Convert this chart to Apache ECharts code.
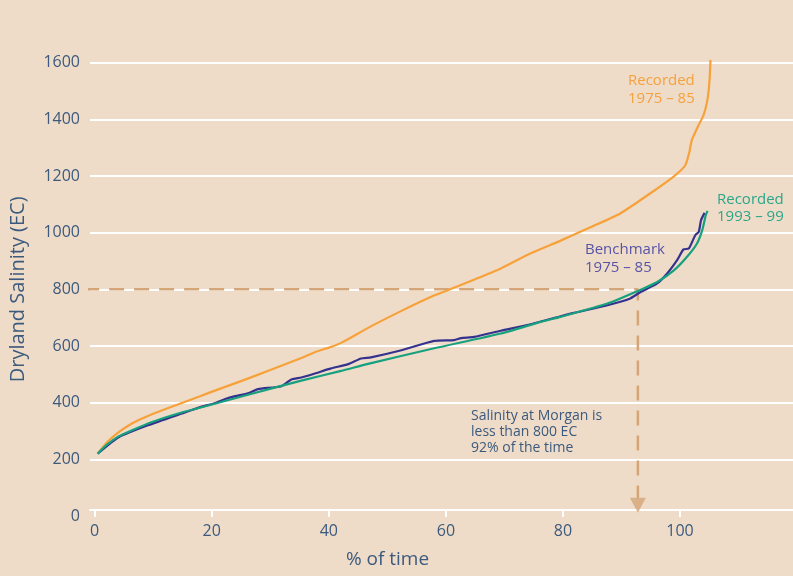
<!DOCTYPE html>
<html>
<head>
<meta charset="utf-8">
<script src="https://cdn.jsdelivr.net/npm/echarts@6/dist/echarts.min.js"></script>
<style>
html,body{margin:0;padding:0;background:#efdcc8;}
#chart{width:793px;height:576px;}
</style>
</head>
<body>
<div id="chart"></div>
<script>
// ---- data ----
const xTickValues = [0, 20, 40, 60, 80, 100];
const recorded7585 = [[0.5,220],[2,258],[4,294],[6,322],[8,343],[10,361],[12,377],[15,400],[18,423],[21,446],[25,476],[30,515],[35.3,558],[37.6,578],[40.4,597],[42.2,612],[46.7,664],[52.4,724],[57.5,774],[60.3,797],[65,836],[69.4,874],[74.5,927],[79.6,972],[85,1022],[89.8,1068],[95,1140],[98.9,1198],[100.9,1238],[101.6,1285],[102,1326],[103,1372],[104,1414],[104.6,1460],[104.9,1503],[105.1,1560],[105.2,1610]];
const benchmark7585 = [[0.5,220],[4.1,278],[9.2,321],[14.9,362],[18.3,386],[20.5,398],[22.3,413],[24,423],[26.2,433],[27.9,448],[31.9,458],[33.6,482],[35.3,489],[37.6,503],[40.4,521],[43.3,536],[45.5,556],[47.2,560],[52.4,585],[58,618],[61.4,621],[62.6,628],[64.8,632],[69.4,654],[73.9,674],[79.6,705],[81.9,717],[87.6,744],[91.5,768],[93.2,790],[96.1,821],[97.8,856],[99.5,903],[100.6,941],[101.5,944],[102.6,991],[103.2,1003],[103.6,1045],[104.2,1070]];
const recorded9399 = [[0.5,220],[2,250],[4,280],[6.4,303],[9.8,332],[14,360],[18.3,384],[26.2,428],[35.3,478],[42.1,512],[46.7,537],[58,592],[69.4,644],[76.2,685],[79.6,703],[87.6,750],[93.2,798],[96.1,826],[99,868],[101.2,915],[102.9,962],[103.8,1009],[104.4,1062],[104.7,1077]];
const thresholdLine = [[-1.8,800],[92.8,800],[92.8,63]];
const arrowHead = [[92.8,38]];

const textColor = '#3b5a7e';
const chart = echarts.init(document.getElementById('chart'));
chart.setOption({
  backgroundColor: '#efdcc8',
  animation: false,
  grid: {left: 88, right: 0, top: 62.7, bottom: 60},
  xAxis: {
    type: 'value', min: -0.8, max: 119.3, offset: -6,
    name: '% of time', nameLocation: 'middle', nameGap: 40,
    nameTextStyle: {color: textColor, fontSize: 19, fontFamily: 'Open Sans', padding: [0, 108, 0, 0]},
    axisLine: {show: true, lineStyle: {color: '#ffffff', width: 2}},
    axisTick: {show: true, length: 7, lineStyle: {color: '#ffffff', width: 2}, customValues: xTickValues},
    axisLabel: {color: textColor, fontSize: 16, fontFamily: 'Open Sans', margin: 13, customValues: xTickValues,
                formatter: v => String(v)},
    splitLine: {show: false}
  },
  yAxis: {
    type: 'value', min: 0, max: 1600, interval: 200,
    name: 'Dryland Salinity (EC)', nameLocation: 'middle', nameGap: 62,
    nameTextStyle: {color: textColor, fontSize: 20, fontFamily: 'Open Sans'},
    axisLine: {show: false}, axisTick: {show: false},
    axisLabel: {color: textColor, fontSize: 16, fontFamily: 'Open Sans', margin: 10, formatter: v => String(v)},
    splitLine: {show: true, showMinLine: false, lineStyle: {color: '#ffffff', width: 2}}
  },
  series: [
    {type: 'line', name: 'threshold', data: thresholdLine, symbol: 'none', clip: false, z: 1,
     lineStyle: {color: '#d3a577', width: 2.5, type: [15, 10]}},
    {type: 'scatter', name: 'arrow', data: arrowHead, symbol: 'triangle', symbolRotate: 180,
     symbolSize: [16, 15], itemStyle: {color: '#d3a577'}, clip: false, z: 1},
    {type: 'line', name: 'Recorded 1975 – 85', data: recorded7585, symbol: 'none', clip: false, smooth: 0.2,
     lineStyle: {color: '#f7a13a', width: 2.2}, z: 3},
    {type: 'line', name: 'Recorded 1993 – 99', data: recorded9399, symbol: 'none', clip: false, smooth: 0.2,
     lineStyle: {color: '#17a07e', width: 2.2}, z: 3},
    {type: 'line', name: 'Benchmark 1975 – 85', data: benchmark7585, symbol: 'none', clip: false, smooth: 0.2,
     lineStyle: {color: '#35318f', width: 2.2}, z: 2}
  ],
  graphic: [
    {type: 'text', left: 628, top: 72, style: {text: 'Recorded\n1975 – 85', fill: '#f5a13c', fontSize: 15, fontFamily: 'Open Sans', lineHeight: 18}},
    {type: 'text', left: 717, top: 191, style: {text: 'Recorded\n1993 – 99', fill: '#2aa689', fontSize: 15, fontFamily: 'Open Sans', lineHeight: 17}},
    {type: 'text', left: 585, top: 241, style: {text: 'Benchmark\n1975 – 85', fill: '#5753a6', fontSize: 15, fontFamily: 'Open Sans', lineHeight: 18}},
    {type: 'text', left: 471, top: 408, style: {text: 'Salinity at Morgan is\nless than 800 EC\n92% of the time', fill: textColor, fontSize: 14, fontFamily: 'Open Sans', lineHeight: 16}}
  ]
});
</script>
</body>
</html>
